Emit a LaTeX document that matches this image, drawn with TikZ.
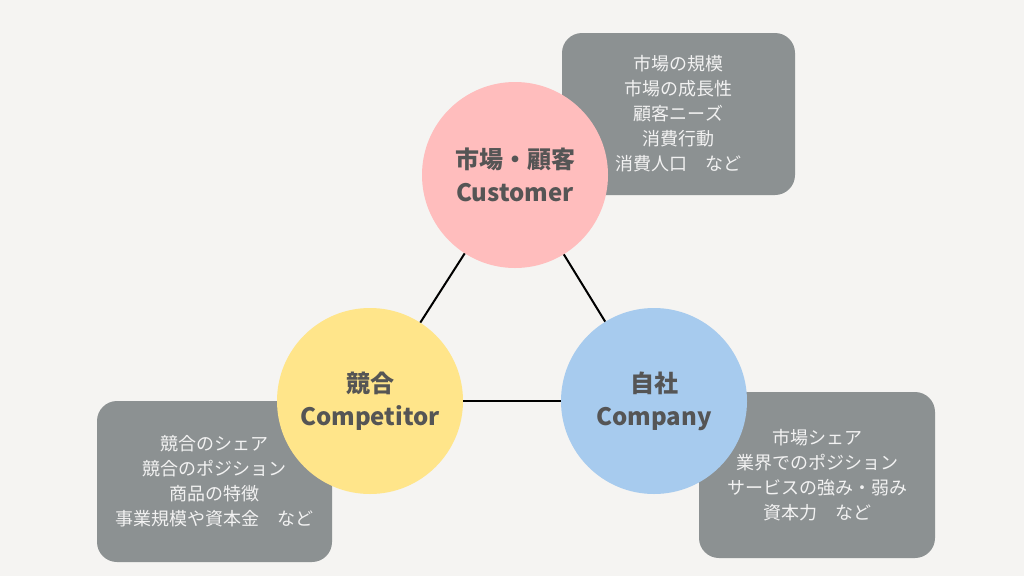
\documentclass[tikz,border=0pt]{standalone}
\usepackage{fontspec}
\setmainfont{Noto Sans CJK JP}
\definecolor{bgc}{HTML}{F5F4F2}
\definecolor{boxc}{HTML}{8C9192}
\definecolor{pinkc}{HTML}{FFBDBD}
\definecolor{yellowc}{HTML}{FFE58A}
\definecolor{bluec}{HTML}{A7CBEE}
\definecolor{darktext}{HTML}{555555}
\definecolor{lighttext}{HTML}{F2F2F2}
\tikzset{
  infobox/.style={fill=boxc, rounded corners=20pt, inner sep=0pt, align=center,
    text=lighttext, font=\fontsize{18}{25}\selectfont},
  topic/.style={circle, minimum size=186pt, inner sep=0pt, align=center,
    text=darktext, font=\fontsize{24}{33}\selectfont\bfseries},
  link/.style={line width=2pt, black}
}
\begin{document}
\begin{tikzpicture}[x=1pt,y=-1pt]
\fill[bgc] (0,0) rectangle (1024,576);
\useasboundingbox (0,0) rectangle (1024,576);
\node[infobox, minimum width=233pt, minimum height=162pt] (b1) at (678.5,114)
  {市場の規模\\市場の成長性\\顧客ニーズ\\消費行動\\消費人口　など};
\node[infobox, minimum width=235pt, minimum height=161pt] (b2) at (214.5,481.5)
  {競合のシェア\\競合のポジション\\商品の特徴\\事業規模や資本金　など};
\node[infobox, minimum width=236pt, minimum height=166pt] (b3) at (817,475)
  {市場シェア\\業界でのポジション\\サービスの強み・弱み\\資本力　など};
\node[topic, fill=pinkc] (cust) at (515,175) {市場・顧客\\Customer};
\node[topic, fill=yellowc] (comp) at (370,401) {競合\\Competitor};
\node[topic, fill=bluec] (own) at (654,401) {自社\\Company};
\draw[link] (cust) -- (comp);
\draw[link] (cust) -- (own);
\draw[link] (comp) -- (own);
\end{tikzpicture}
\end{document}
